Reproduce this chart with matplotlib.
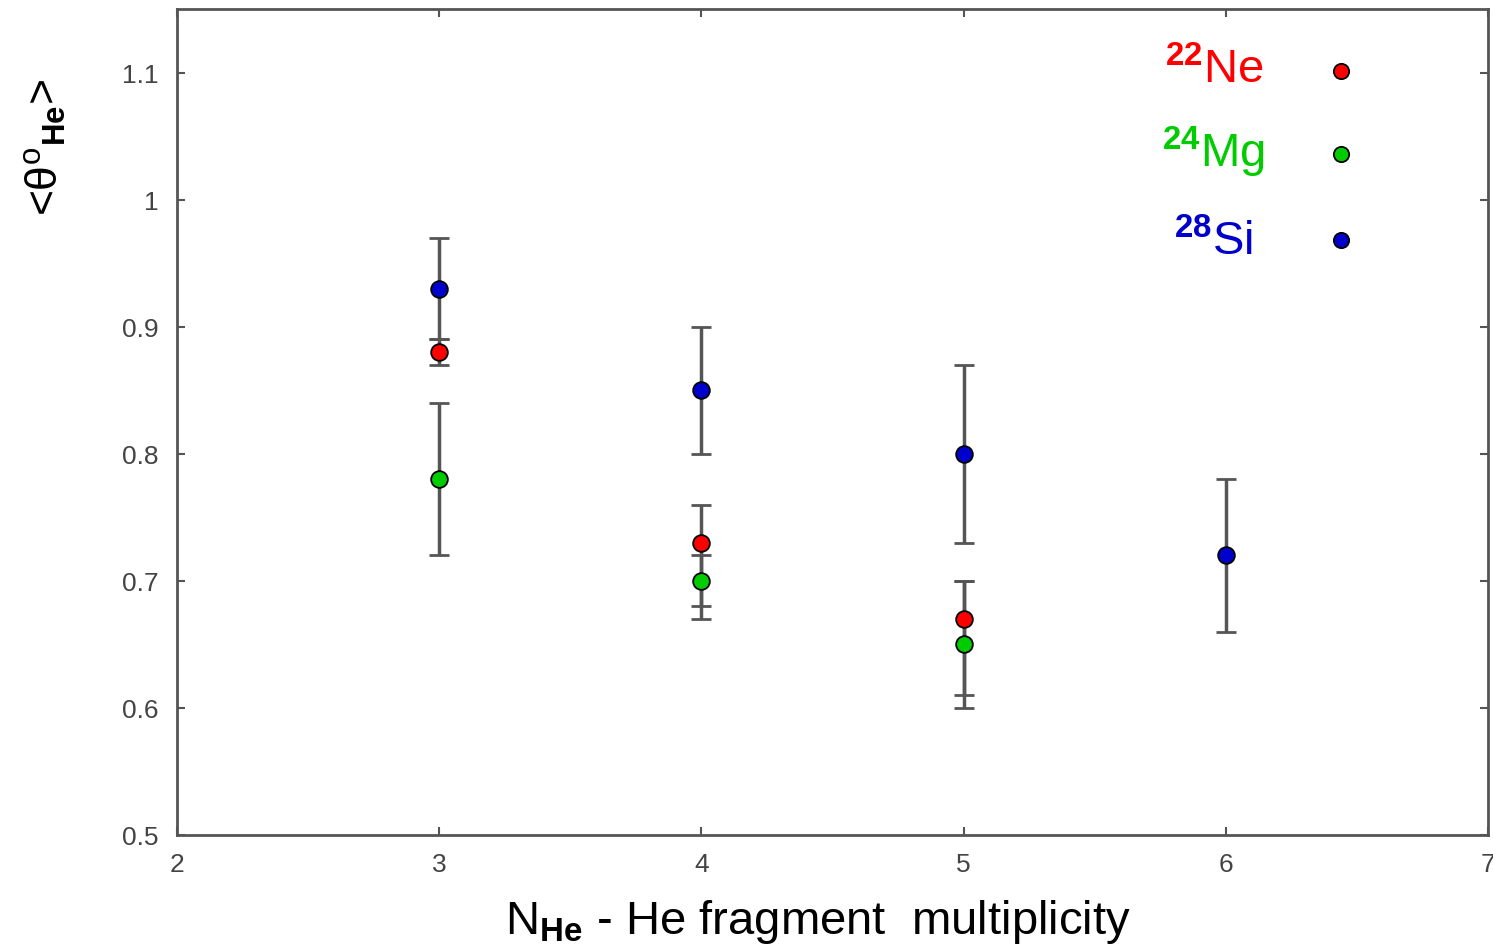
import numpy as np
import matplotlib
matplotlib.use('Agg')
import matplotlib.pyplot as plt

plt.rcParams['font.family'] = ['Liberation Sans', 'DejaVu Sans']
plt.rcParams['mathtext.fontset'] = 'custom'
plt.rcParams['mathtext.rm'] = 'Liberation Sans'
plt.rcParams['mathtext.bf'] = 'Liberation Sans:bold'
plt.rcParams['mathtext.it'] = 'Liberation Sans:italic'

# data
ne_x = [3, 4, 5]
ne_y = [0.88, 0.73, 0.67]
ne_lo = [0.87, 0.67, 0.61]
ne_hi = [0.89, 0.76, 0.70]

mg_x = [3, 4, 5]
mg_y = [0.78, 0.70, 0.65]
mg_lo = [0.72, 0.68, 0.60]
mg_hi = [0.84, 0.72, 0.70]

si_x = [3, 4, 5, 6]
si_y = [0.93, 0.85, 0.80, 0.72]
si_lo = [0.89, 0.80, 0.73, 0.66]
si_hi = [0.97, 0.90, 0.87, 0.78]

series = [
    (r'$^{\mathbf{22}}$Ne', '#ff0000', ne_x, ne_y, ne_lo, ne_hi),
    (r'$^{\mathbf{24}}$Mg', '#00cc00', mg_x, mg_y, mg_lo, mg_hi),
    (r'$^{\mathbf{28}}$Si', '#0000cc', si_x, si_y, si_lo, si_hi),
]

fig = plt.figure(figsize=(14.93, 9.53), dpi=100)
ax = fig.add_axes([177/1493, 117/953, 1311/1493, 826/953])

# error bars first, then the dots
for name, col, x, y, lo, hi in series:
    y = np.array(y)
    err = [y - np.array(lo), np.array(hi) - y]
    ax.errorbar(x, y, yerr=err, fmt='none', ecolor='#555555', elinewidth=2.5,
                capsize=7, capthick=2, zorder=2)
for name, col, x, y, lo, hi in series:
    ax.plot(x, y, 'o', color=col, ms=12, mec='black', mew=1.3, zorder=3)

ax.set_xlim(2, 7)
ax.set_ylim(0.5, 1.15)
ax.set_xticks([2, 3, 4, 5, 6, 7])
ax.set_yticks([0.5, 0.6, 0.7, 0.8, 0.9, 1.0, 1.1])
ax.set_yticklabels(['0.5', '0.6', '0.7', '0.8', '0.9', '1', '1.1'])
ax.tick_params(direction='in', length=6, width=1.5, colors='#555555',
               labelcolor='#444444', labelsize=19, top=True, right=True)
ax.tick_params(axis='y', pad=13)
ax.tick_params(axis='x', pad=12)
for s in ax.spines.values():
    s.set_color('#555555')
    s.set_linewidth(2)

# legend drawn by hand: text on the left, dot on the right
leg_ty = [0.9116, 0.809, 0.703]
leg_my = [0.925, 0.824, 0.720]
for (name, col, *_), ty, my in zip(series, leg_ty, leg_my):
    ax.text(0.791, ty, name, transform=ax.transAxes, ha='center', va='baseline',
            color=col, fontsize=34)
    ax.plot([0.888], [my], 'o', transform=ax.transAxes, color=col, ms=11,
            mec='black', mew=1.3, clip_on=False)

fig.text(818/1493, 1 - 922/953, r'N$_{\mathbf{He}}$ - He fragment  multiplicity',
         ha='center', va='center', fontsize=34)
fig.text(45/1493, 1 - 148/953, r'<θ$^{\mathrm{o}}$$_{\mathbf{He}}$>', rotation=90,
         ha='center', va='center', fontsize=32)

fig.savefig('out.png', dpi=100)
